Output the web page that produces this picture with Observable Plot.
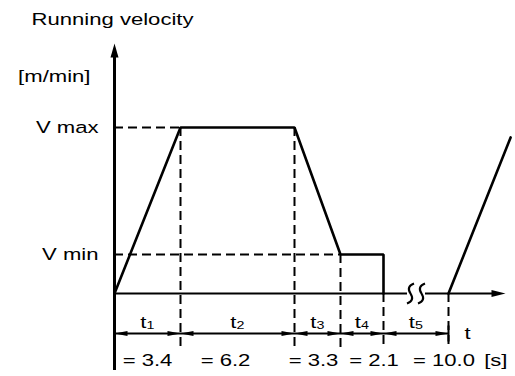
<!DOCTYPE html>
<html>
<head>
<meta charset="utf-8">
<script src="https://cdn.jsdelivr.net/npm/d3@7"></script>
<script src="https://cdn.jsdelivr.net/npm/@observablehq/plot@0.6"></script>
<style>
  html, body { margin: 0; padding: 0; background: #fff; }
</style>
</head>
<body>
<div id="chart"></div>
<script>
// Phases of one run cycle (subscript of t) and their durations in seconds
const phases = ["1", "2", "3", "4", "5"];
const durations = [3.4, 6.2, 3.3, 2.1, 10.0];
const durationLabels = ["= 3.4", "= 6.2", "= 3.3", "= 2.1", "= 10.0"];

// Speed levels, relative to V max
const levelNames = ["V max", "V min"];
const levelValues = [1, 0.235];

// Velocity profile corners: time (s) and relative speed
const profileT = [0, 3.4, 9.6, 12.9, 15.0, 15.0];
const profileV = [0, 1, 1, 0.235, 0.235, 0];

// Start of the next cycle (acceleration again)
const nextT = [25.0, 28.2];
const nextV = [0, 0.94];

// Where the time axis is broken
const breakAt = 20;

// Texts
const title = "Running velocity";
const speedUnit = "[m/min]";
const timeName = "t";
const timeUnit = "[s]";

// ---- derived tables ----
const ends = Array.from(d3.cumsum(durations));
const starts = [0, ...ends.slice(0, -1)];
const intervals = durations.map((d, i) => ({
  phase: phases[i], start: starts[i], end: ends[i],
  mid: (starts[i] + ends[i]) / 2, label: durationLabels[i]
}));
const profile = profileT.map((t, i) => ({t, v: profileV[i]}));
const nextRamp = nextT.map((t, i) => ({t, v: nextV[i]}));
const levels = levelNames.map((name, i) => ({name, v: levelValues[i]}));

// Dashed level guides run from the speed axis to where the profile reaches the level
const levelGuides = levels.map(l => ({v: l.v, t: profile.find(p => Math.abs(p.v - l.v) < 1e-9).t}));
// Dashed time guides drop from the lowest profile point at each phase boundary
const allPts = profile.concat(nextRamp);
const timeGuides = ends.map(t => ({
  t, v: d3.min(allPts.filter(p => Math.abs(p.t - t) < 1e-9), p => p.v) ?? 0
}));

// The diagram is schematic: each phase gets its own stretch of the time axis
const xDomain = [0, ...ends, ends[4] + durations[0]];
const xRange = [114, 180, 294, 340, 383, 448, 514];

// ---- custom symbols ----
// filled arrowhead with its tip at the point, pointing along (ux, uy)
const head = (ux, uy, len, half) => ({
  draw(ctx) {
    const px = -uy, py = ux;
    ctx.moveTo(0, 0);
    ctx.lineTo(-ux * len + px * half, -uy * len + py * half);
    ctx.lineTo(-ux * len - px * half, -uy * len - py * half);
    ctx.closePath();
  }
});
const headLeft = head(-1, 0, 13, 2.6);
const headRight = head(1, 0, 13, 2.6);
const axisUp = head(0, -1, 14, 4);
const axisRight = head(1, 0, 14, 3.6);
const gapMask = {draw(ctx) { ctx.rect(-9, -3, 18, 6); }};
const breakMark = {
  draw(ctx) {
    for (const o of [-5.5, 5.5]) {
      ctx.moveTo(o + 3.5, -10);
      ctx.quadraticCurveTo(o - 4.5, -7, o, 0);
      ctx.quadraticCurveTo(o + 4.5, 7, o - 3.5, 10);
    }
  }
};
const vbar = {draw(ctx) { ctx.moveTo(0, -8); ctx.lineTo(0, 8); }};

const dash = "9,5";
const valueShift = [0, -12, -4, 12, 28];

const chart = Plot.plot({
  width: 515,
  height: 376,
  marginTop: 43,
  marginRight: 10,
  marginBottom: 6,
  marginLeft: 114,
  x: {type: "linear", domain: xDomain, range: xRange, axis: null},
  y: {domain: [0, 1], range: [293, 127], axis: null},
  style: {
    fontFamily: "'Liberation Sans', Arial, sans-serif",
    fontSize: "17px",
    background: "#fff",
    color: "#000",
    overflow: "visible"
  },
  marks: [
    // dashed guides
    Plot.ruleY(levelGuides, {y: "v", x1: 0, x2: "t", stroke: "#000", strokeWidth: 2, strokeDasharray: dash}),
    Plot.ruleX(timeGuides, {x: "t", y1: "v", y2: 0, insetBottom: -56, stroke: "#000", strokeWidth: 2, strokeDasharray: dash}),

    // time axis with its break
    Plot.ruleY([0], {stroke: "#000", strokeWidth: 2, insetRight: 8}),
    Plot.dot([breakAt], {x: d => d, y: 0, symbol: gapMask, fill: "#fff", stroke: "none"}),
    Plot.dot([breakAt], {x: d => d, y: 0, symbol: breakMark, fill: "none", stroke: "#000", strokeWidth: 2.2}),
    Plot.dot([0], {y: 0, frameAnchor: "right", symbol: axisRight, fill: "#000", stroke: "none"}),

    // speed axis
    Plot.ruleX([0], {stroke: "#000", strokeWidth: 3, insetTop: 8}),
    Plot.dot([0], {x: 0, frameAnchor: "top", symbol: axisUp, fill: "#000", stroke: "none"}),

    // velocity profile
    Plot.line(profile, {x: "t", y: "v", stroke: "#000", strokeWidth: 2.6, strokeLinejoin: "miter"}),
    Plot.line(nextRamp, {x: "t", y: "v", stroke: "#000", strokeWidth: 2.6}),

    // phase dimension line
    Plot.ruleY(intervals, {x1: "start", x2: "end", y: 0, dy: 40, stroke: "#000", strokeWidth: 2}),
    Plot.dot(intervals, {x: "start", y: 0, dy: 40, symbol: headLeft, fill: "#000", stroke: "none"}),
    Plot.dot(intervals, {x: "end", y: 0, dy: 40, symbol: headRight, fill: "#000", stroke: "none"}),
    Plot.dot([ends[4]], {x: d => d, y: 0, dy: 40, symbol: vbar, stroke: "#000", strokeWidth: 2}),

    // phase names t1..t5
    Plot.text(intervals, {x: "mid", y: 0, dx: -1, dy: 34, text: () => timeName, textAnchor: "end", lineAnchor: "bottom", fontSize: 17}),
    Plot.text(intervals, {x: "mid", y: 0, dx: -1, dy: 35, text: "phase", textAnchor: "start", lineAnchor: "bottom", fontSize: 11}),

    // durations
    ...intervals.map((d, i) => Plot.text([d], {x: "mid", y: 0, dx: valueShift[i], dy: 72, text: "label", textAnchor: "middle", lineAnchor: "bottom", fontSize: 17})),

    // axis names and units
    Plot.text([timeName], {x: ends[4], y: 0, dx: 19, dy: 45, text: d => d, textAnchor: "middle", lineAnchor: "bottom", fontSize: 17}),
    Plot.text([timeUnit], {y: 0, frameAnchor: "right", dx: 2, dy: 72, text: d => d, textAnchor: "end", lineAnchor: "bottom", fontSize: 17}),
    Plot.text(levels, {x: 0, y: "v", text: "name", dx: -16, textAnchor: "end", lineAnchor: "middle", fontSize: 17}),
    Plot.text([speedUnit], {x: 0, frameAnchor: "top", dx: -24, dy: 38, text: d => d, textAnchor: "end", lineAnchor: "bottom", fontSize: 17}),
    Plot.text([title], {x: 0, frameAnchor: "top", dx: -2, dy: -19, text: d => d, textAnchor: "middle", lineAnchor: "bottom", fontSize: 17})
  ]
});

// the lettering of this diagram is set wide
chart.querySelectorAll("text").forEach(t => {
  const tr = t.getAttribute("transform") || "";
  t.setAttribute("transform", (tr + " scale(1.3,1)").trim());
});

document.getElementById("chart").append(chart);
</script>
</body>
</html>
